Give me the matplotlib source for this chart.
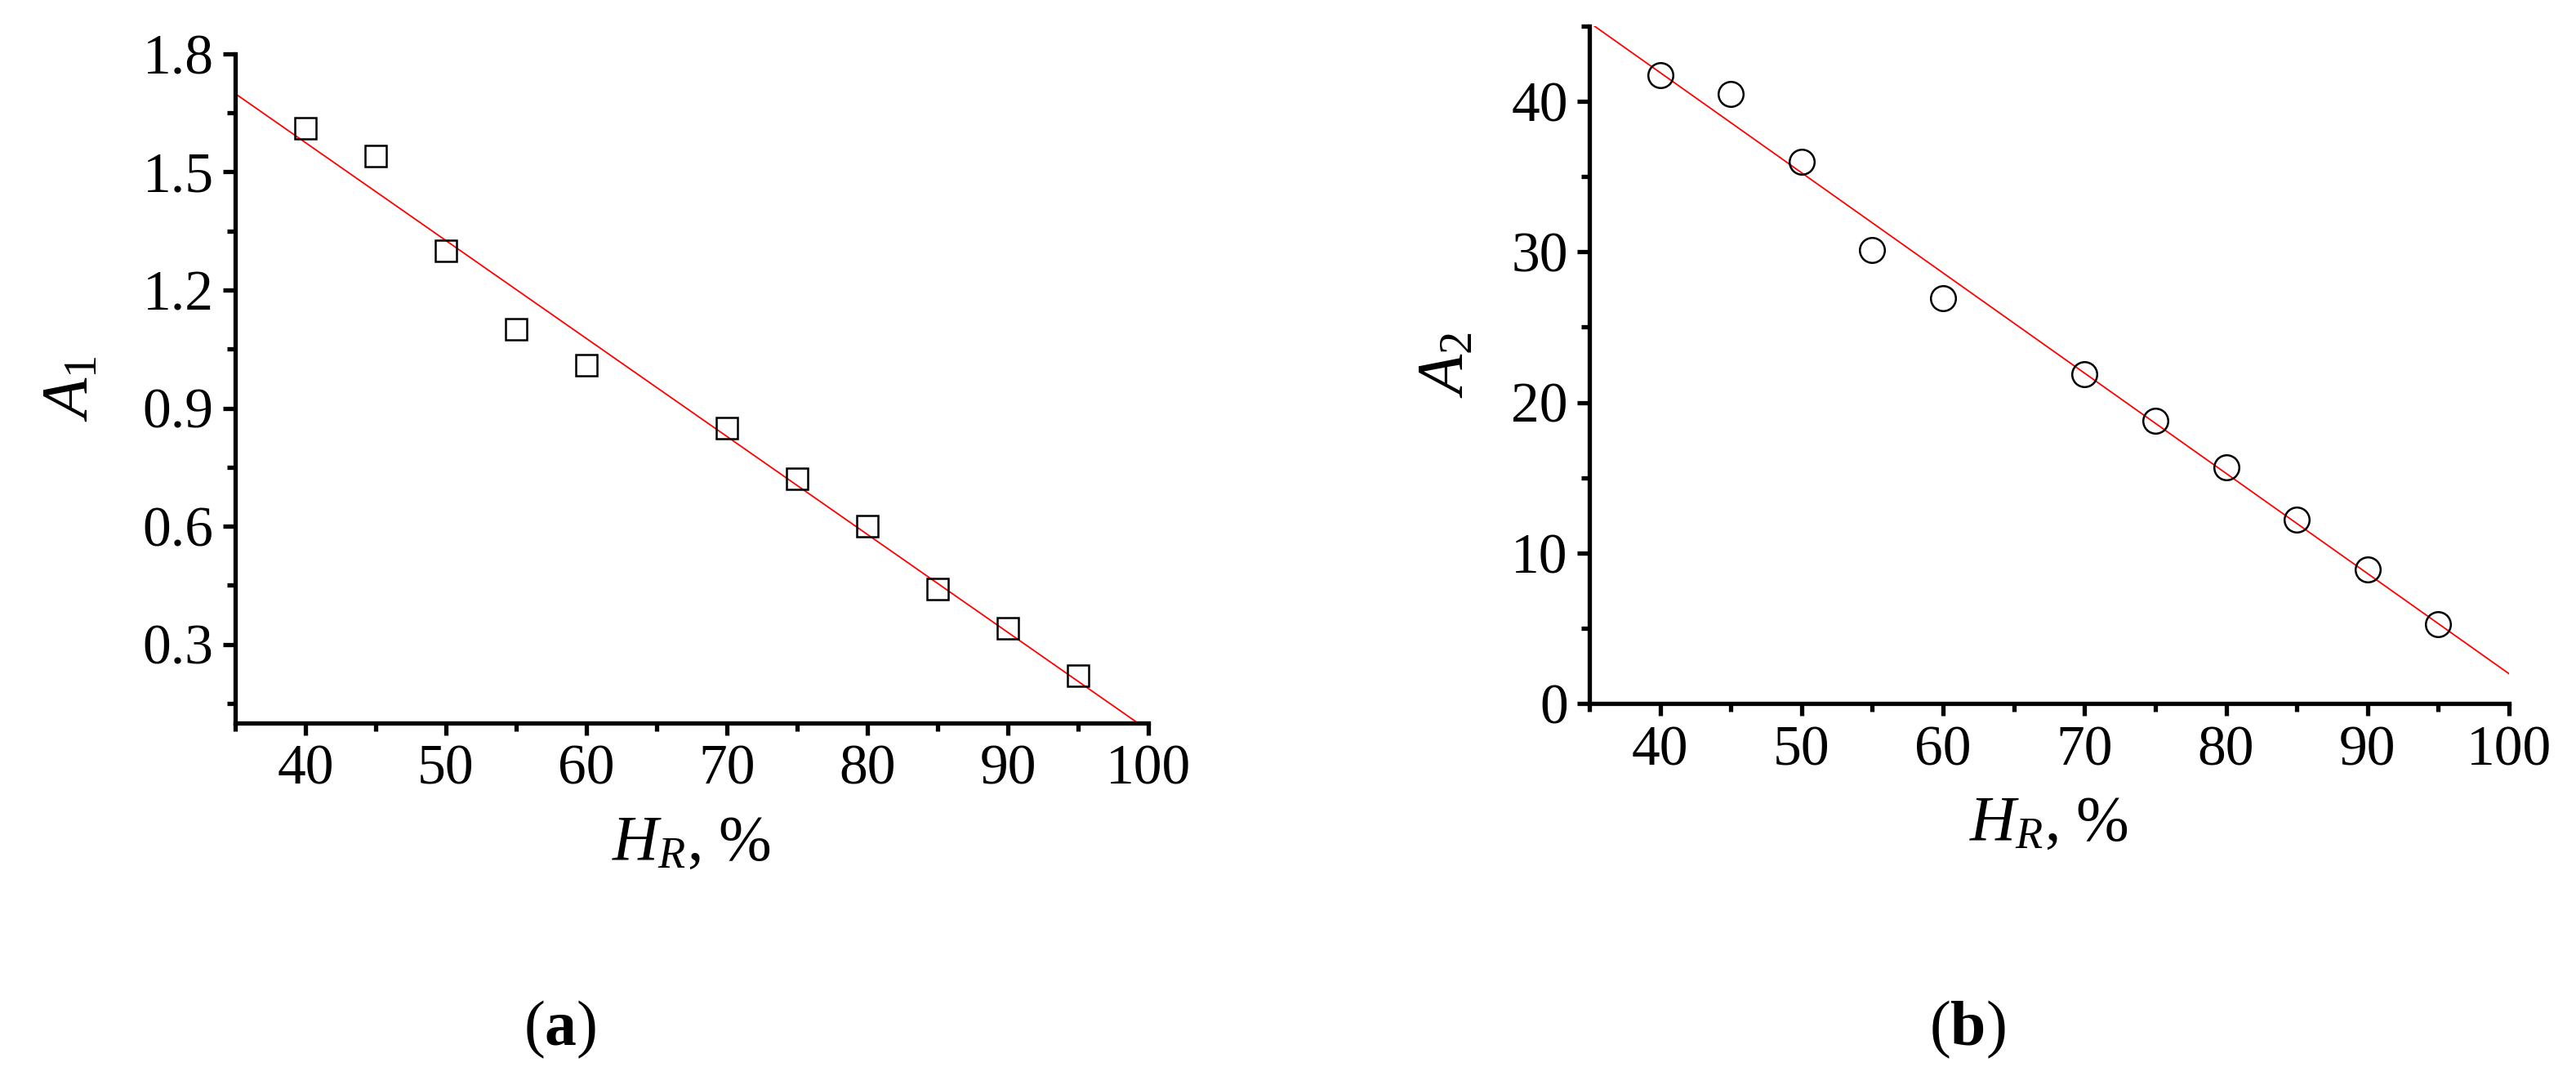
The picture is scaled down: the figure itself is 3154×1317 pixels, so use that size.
import numpy as np
import matplotlib
matplotlib.use("Agg")
import matplotlib.pyplot as plt
from matplotlib.ticker import MultipleLocator

plt.rcParams['font.family'] = ['Liberation Serif', 'DejaVu Serif']
plt.rcParams['mathtext.fontset'] = 'custom'
plt.rcParams['mathtext.rm'] = 'Liberation Serif'
plt.rcParams['mathtext.it'] = 'Liberation Serif:italic'
plt.rcParams['mathtext.bf'] = 'Liberation Serif:bold'

# Data
hr = [40, 45, 50, 55, 60, 70, 75, 80, 85, 90, 95]
a1 = [1.61, 1.54, 1.30, 1.10, 1.01, 0.85, 0.72, 0.60, 0.44, 0.34, 0.22]
a2 = [41.7, 40.5, 36.0, 30.1, 26.9, 21.9, 18.8, 15.7, 12.2, 8.9, 5.3]
x_ticks = [40, 50, 60, 70, 80, 90, 100]
y1_ticks = [0.3, 0.6, 0.9, 1.2, 1.5, 1.8]
y2_ticks = [0, 10, 20, 30, 40]

fig = plt.figure(figsize=(31.54, 13.17), dpi=100)
ax1 = fig.add_axes([0.0913, 0.328, 0.3545, 0.622])
ax2 = fig.add_axes([0.617, 0.346, 0.357, 0.630])

def style(ax, ymajor, yminor):
    for s in ['top', 'right']:
        ax.spines[s].set_visible(False)
    for s in ['left', 'bottom']:
        ax.spines[s].set_linewidth(3.8)
    ax.xaxis.set_major_locator(MultipleLocator(10))
    ax.xaxis.set_minor_locator(MultipleLocator(5))
    ax.yaxis.set_major_locator(MultipleLocator(ymajor))
    ax.yaxis.set_minor_locator(MultipleLocator(yminor))
    ax.tick_params(which='major', direction='out', length=11, width=3.8, labelsize=50, pad=8)
    ax.tick_params(which='minor', direction='out', length=7, width=3.8)

xfit = np.array([35, 100])

# Panel a
p1 = np.polyfit(hr, a1, 1)
ax1.plot(xfit, np.polyval(p1, xfit), color='red', lw=1.3, zorder=1)
ax1.plot(hr, a1, 's', ms=19, mfc='none', mec='black', mew=1.8, zorder=2)
ax1.set_xlim(35, 100)
ax1.set_ylim(0.1, 1.8)
style(ax1, 0.3, 0.15)
ax1.set_xticks(x_ticks)
ax1.set_yticks(y1_ticks)
ax1.set_yticklabels([f"{v:.1f}" for v in y1_ticks])
ax1.set_xlabel(r'$\mathit{H}_\mathit{R}$, %', fontsize=56, labelpad=16)
ax1.set_ylabel(r'$\mathit{A}_\mathit{1}$', fontsize=58, labelpad=36)

# Panel b
p2 = np.polyfit(hr, a2, 1)
ax2.plot(xfit, np.polyval(p2, xfit), color='red', lw=1.3, zorder=1)
ax2.plot(hr, a2, 'o', ms=22, mfc='none', mec='black', mew=1.8, zorder=2)
ax2.set_xlim(35, 100)
ax2.set_ylim(0, 45)
style(ax2, 10, 5)
ax2.set_xticks(x_ticks)
ax2.set_yticks(y2_ticks)
ax2.set_xlabel(r'$\mathit{H}_\mathit{R}$, %', fontsize=56, labelpad=16)
ax2.set_ylabel(r'$\mathit{A}_\mathit{2}$', fontsize=58, labelpad=30)

fig.text(0.2175, 0.043, r'($\mathbf{a}$)', fontsize=56, ha='center', va='center')
fig.text(0.7638, 0.043, r'($\mathbf{b}$)', fontsize=56, ha='center', va='center')

fig.savefig('out.png', dpi=100)
